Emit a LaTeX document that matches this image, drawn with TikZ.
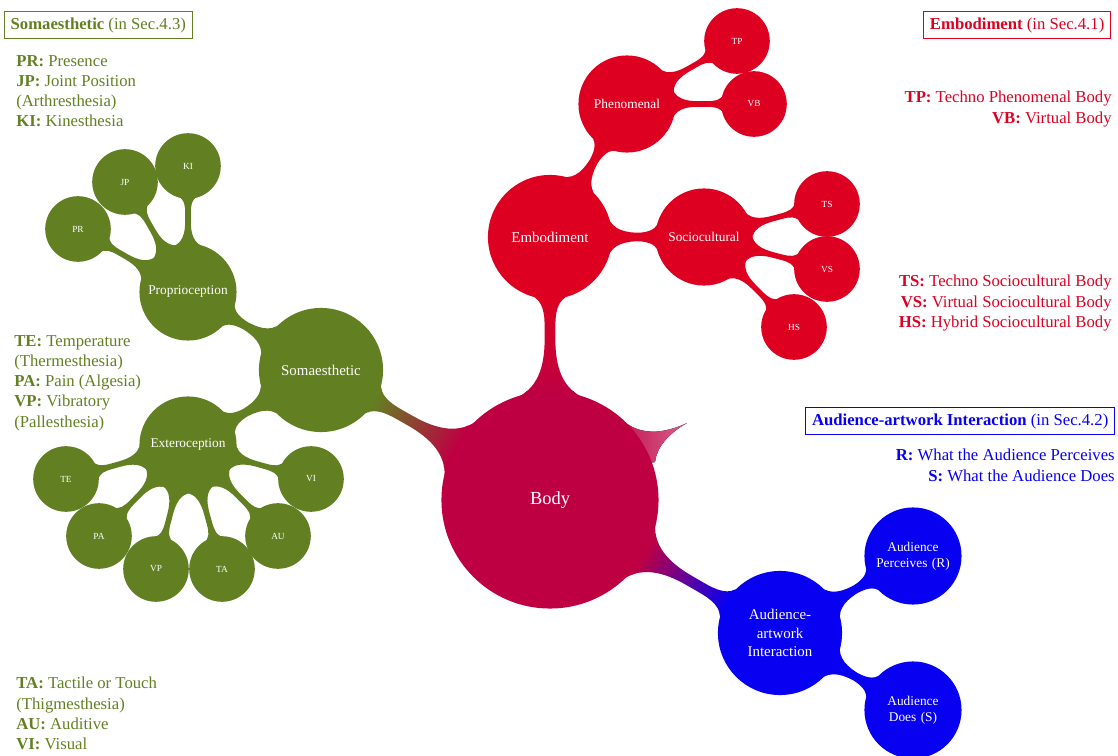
\documentclass[tikz,border=0pt]{standalone}
\usepackage{fontspec}
\setmainfont{Liberation Serif}
\usetikzlibrary{mindmap}
\usetikzlibrary{backgrounds}

\definecolor{bodycol}{RGB}{190,0,66}
\definecolor{embcol}{RGB}{221,0,33}
\definecolor{somacol}{RGB}{98,128,34}
\definecolor{audcol}{RGB}{8,0,240}

\tikzset{
  root/.style={concept, concept color=#1, fill=#1, text=white, minimum size=4.3cm, text width=3.4cm, font=\fontsize{10.5}{12.5}\selectfont},
  topic/.style={concept, concept color=#1, fill=#1, text=white, minimum size=2.44cm, text width=2.1cm, font=\fontsize{8.5}{10.5}\selectfont},
  sub/.style={concept, concept color=#1, fill=#1, text=white, minimum size=1.9cm, text width=1.7cm, font=\fontsize{7.6}{9.2}\selectfont},
  leaf/.style={concept, concept color=#1, fill=#1, text=white, minimum size=1.27cm, text width=1cm, font=\fontsize{5.3}{6.3}\selectfont},
  link/.style 2 args={circle connection bar switch color=from (#1) to (#2)},
  legend/.style={inner sep=0pt, text=#1, font=\fontsize{9.5}{11.5}\selectfont},
  title/.style={draw=#1, text=#1, line width=0.6pt, inner sep=3.5pt, font=\fontsize{9.5}{11.5}\selectfont},
}

\begin{document}
\begin{tikzpicture}
	\useasboundingbox (-11,-5.12) rectangle (11.36,10);

	\begin{scope}[mindmap]
	\node[root=bodycol] (body) at (0,0) {Body};

	% embodiment branch
	\node[topic=embcol] (emb) at (0,5.26) {Embodiment};
	\node[sub=embcol] (phen) at (1.54,7.92) {Phenomenal};
	\node[leaf=embcol] (tp) at (3.74,9.18) {TP};
	\node[leaf=embcol] (vb) at (4.08,7.92) {VB};
	\node[sub=embcol] (socio) at (3.08,5.26) {Sociocultural};
	\node[leaf=embcol] (ts) at (5.54,5.92) {TS};
	\node[leaf=embcol] (vs) at (5.54,4.62) {VS};
	\node[leaf=embcol] (hs) at (4.88,3.46) {HS};

	% somaesthetic branch
	\node[topic=somacol] (soma) at (-4.58,2.60) {Somaesthetic};
	\node[sub=somacol] (prop) at (-7.24,4.16) {Proprioception};
	\node[leaf=somacol] (pr) at (-9.44,5.42) {PR};
	\node[leaf=somacol] (jp) at (-8.50,6.36) {JP};
	\node[leaf=somacol] (ki) at (-7.24,6.68) {KI};
	\node[sub=somacol] (extero) at (-7.24,1.10) {Exteroception};
	\node[leaf=somacol] (te) at (-9.68,0.42) {TE};
	\node[leaf=somacol] (pa) at (-9.02,-0.72) {PA};
	\node[leaf=somacol] (vp) at (-7.88,-1.38) {VP};
	\node[leaf=somacol] (ta) at (-6.56,-1.38) {TA};
	\node[leaf=somacol] (au) at (-5.44,-0.72) {AU};
	\node[leaf=somacol] (vi) at (-4.78,0.42) {VI};

	% audience branch
	\node[topic=audcol] (aud) at (4.60,-2.66) {Audience-\\artwork\\Interaction};
	\node[sub=audcol] (audr) at (7.26,-1.12) {Audience\\Perceives (R)};
	\node[sub=audcol] (auds) at (7.26,-4.20) {Audience\\Does (S)};

	\begin{scope}[on background layer]
		% cut-off stub on the root
		\fill[left color=bodycol, right color=bodycol!62!white]
			(1.40,1.64) .. controls (1.70,1.34) and (2.14,1.26) .. (2.74,1.54)
			.. controls (2.36,1.32) and (2.14,1.06) .. (2.10,0.76)
			-- (1.20,0.60) -- (1.00,1.20) -- cycle;

		\path[line width=2mm] (body) to[link={bodycol}{embcol}] (emb);
		\path[line width=2mm] (body) to[link={bodycol}{somacol}] (soma);
		\path[line width=2mm] (body) to[link={bodycol}{audcol}] (aud);

		\path[line width=1.6mm] (emb) to[link={embcol}{embcol}] (phen);
		\path[line width=1.6mm] (emb) to[link={embcol}{embcol}] (socio);
		\path[line width=1.2mm] (phen) to[link={embcol}{embcol}] (tp);
		\path[line width=1.2mm] (phen) to[link={embcol}{embcol}] (vb);
		\path[line width=1.2mm] (socio) to[link={embcol}{embcol}] (ts);
		\path[line width=1.2mm] (socio) to[link={embcol}{embcol}] (vs);
		\path[line width=1.2mm] (socio) to[link={embcol}{embcol}] (hs);

		\path[line width=1.6mm] (soma) to[link={somacol}{somacol}] (prop);
		\path[line width=1.6mm] (soma) to[link={somacol}{somacol}] (extero);
		\path[line width=1.2mm] (prop) to[link={somacol}{somacol}] (pr);
		\path[line width=1.2mm] (prop) to[link={somacol}{somacol}] (jp);
		\path[line width=1.2mm] (prop) to[link={somacol}{somacol}] (ki);
		\path[line width=1.2mm] (extero) to[link={somacol}{somacol}] (te);
		\path[line width=1.2mm] (extero) to[link={somacol}{somacol}] (pa);
		\path[line width=1.2mm] (extero) to[link={somacol}{somacol}] (vp);
		\path[line width=1.2mm] (extero) to[link={somacol}{somacol}] (ta);
		\path[line width=1.2mm] (extero) to[link={somacol}{somacol}] (au);
		\path[line width=1.2mm] (extero) to[link={somacol}{somacol}] (vi);

		\path[line width=1.6mm] (aud) to[link={audcol}{audcol}] (audr);
		\path[line width=1.6mm] (aud) to[link={audcol}{audcol}] (auds);
	\end{scope}
	\end{scope}

	% legends
	\node[title=somacol, anchor=west] (somatitle) at (-10.92,9.50) {\textbf{Somaesthetic} (in Sec.4.3)};
	\node[legend=somacol, anchor=north west, align=left] (somakey1) at (-10.68,8.90)
		{\textbf{PR:} Presence\\ \textbf{JP:} Joint Position\\ (Arthresthesia)\\ \textbf{KI:} Kinesthesia};
	\node[legend=somacol, anchor=north west, align=left] (somakey2) at (-10.72,3.30)
		{\textbf{TE:} Temperature\\ (Thermesthesia)\\ \textbf{PA:} Pain (Algesia)\\ \textbf{VP:} Vibratory\\ (Pallesthesia)};
	\node[legend=somacol, anchor=north west, align=left] (somakey3) at (-10.68,-3.54)
		{\textbf{TA:} Tactile or Touch\\ (Thigmesthesia)\\ \textbf{AU:} Auditive\\ \textbf{VI:} Visual};

	\node[title=embcol, anchor=east] (embtitle) at (11.22,9.50) {\textbf{Embodiment} (in Sec.4.1)};
	\node[legend=embcol, anchor=north east, align=right] (embkey1) at (11.24,8.18)
		{\textbf{TP:} Techno Phenomenal Body\\ \textbf{VB:} Virtual Body};
	\node[legend=embcol, anchor=north east, align=right] (embkey2) at (11.24,4.50)
		{\textbf{TS:} Techno Sociocultural Body\\ \textbf{VS:} Virtual Sociocultural Body\\ \textbf{HS:} Hybrid Sociocultural Body};

	\node[title=audcol, anchor=east] (audtitle) at (11.30,1.58) {\textbf{Audience-artwork Interaction} (in Sec.4.2)};
	\node[legend=audcol, anchor=north east, align=right] (audkey) at (11.30,1.02)
		{\textbf{R:} What the Audience Perceives\\ \textbf{S:} What the Audience Does};
\end{tikzpicture}
\end{document}
